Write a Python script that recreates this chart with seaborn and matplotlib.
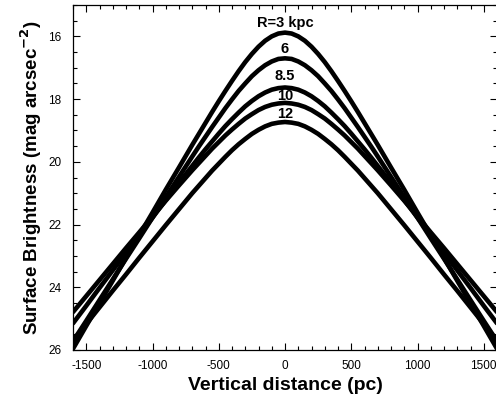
import numpy as np
import matplotlib
matplotlib.use("Agg")
import matplotlib.pyplot as plt
import seaborn as sns
import pandas as pd
from matplotlib.ticker import MultipleLocator

sns.set_style("ticks")
plt.rcParams['font.family'] = ['Liberation Sans', 'DejaVu Sans']
plt.rcParams['axes.unicode_minus'] = False
plt.rcParams['text.color'] = 'black'
plt.rcParams['axes.labelcolor'] = 'black'

# vertical distance (pc)
z_pc = [-1600, -1500, -1400, -1300, -1200, -1100, -1000, -900, -800,
        -700, -650, -600, -550, -500, -450, -400, -350, -300, -250, -200, -150, -100, -50,
        0,
        50, 100, 150, 200, 250, 300, 350, 400, 450, 500, 550, 600, 650, 700,
        800, 900, 1000, 1100, 1200, 1300, 1400, 1500, 1600]

# surface brightness (mag arcsec^-2)
sb_R3 = [25.96, 25.23, 24.51, 23.79, 23.06, 22.34, 21.62, 20.89, 20.18,
         19.46, 19.11, 18.76, 18.41, 18.07, 17.74, 17.42, 17.11, 16.82, 16.56, 16.33, 16.14, 16.00, 15.91,
         15.88,
         15.91, 16.00, 16.14, 16.33, 16.56, 16.82, 17.11, 17.42, 17.74, 18.07, 18.41, 18.76, 19.11, 19.46,
         20.18, 20.89, 21.62, 22.34, 23.06, 23.79, 24.51, 25.23, 25.96]
sb_R6 = [25.72, 25.07, 24.41, 23.75, 23.09, 22.44, 21.78, 21.13, 20.48,
         19.83, 19.51, 19.20, 18.89, 18.59, 18.29, 18.01, 17.74, 17.50, 17.27, 17.08, 16.92, 16.80, 16.72,
         16.70,
         16.72, 16.80, 16.92, 17.08, 17.27, 17.50, 17.74, 18.01, 18.29, 18.59, 18.89, 19.20, 19.51, 19.83,
         20.48, 21.13, 21.78, 22.44, 23.09, 23.75, 24.41, 25.07, 25.72]
sb_R85 = [25.15, 24.59, 24.02, 23.46, 22.90, 22.34, 21.78, 21.22, 20.67,
          20.13, 19.86, 19.60, 19.35, 19.10, 18.86, 18.64, 18.43, 18.23, 18.06, 17.91, 17.79, 17.70, 17.65,
          17.63,
          17.65, 17.70, 17.79, 17.91, 18.06, 18.23, 18.43, 18.64, 18.86, 19.10, 19.35, 19.60, 19.86, 20.13,
          20.67, 21.22, 21.78, 22.34, 22.90, 23.46, 24.02, 24.59, 25.15]
sb_R10 = [24.79, 24.28, 23.77, 23.26, 22.75, 22.25, 21.74, 21.24, 20.75,
          20.27, 20.04, 19.81, 19.58, 19.37, 19.16, 18.97, 18.79, 18.62, 18.48, 18.35, 18.25, 18.18, 18.14,
          18.12,
          18.14, 18.18, 18.25, 18.35, 18.48, 18.62, 18.79, 18.97, 19.16, 19.37, 19.58, 19.81, 20.04, 20.27,
          20.75, 21.24, 21.74, 22.25, 22.75, 23.26, 23.77, 24.28, 24.79]
sb_R12 = [25.70, 25.17, 24.64, 24.11, 23.59, 23.06, 22.54, 22.02, 21.51,
          21.00, 20.76, 20.52, 20.28, 20.06, 19.84, 19.63, 19.44, 19.27, 19.11, 18.98, 18.87, 18.79, 18.75,
          18.73,
          18.75, 18.79, 18.87, 18.98, 19.11, 19.27, 19.44, 19.63, 19.84, 20.06, 20.28, 20.52, 20.76, 21.00,
          21.51, 22.02, 22.54, 23.06, 23.59, 24.11, 24.64, 25.17, 25.70]

curve_labels = ["R=3 kpc", "6", "8.5", "10", "12"]
label_mu = [15.70, 16.53, 17.39, 18.03, 18.60]   # baseline positions of the labels

series = [sb_R3, sb_R6, sb_R85, sb_R10, sb_R12]
df = pd.concat([pd.DataFrame({"z": z_pc, "mu": s, "R": lab})
                for lab, s in zip(curve_labels, series)], ignore_index=True)

fig = plt.figure(figsize=(4.96, 4.07), dpi=100)
ax = fig.add_axes([73/496, 57/407, 424/496, 345/407])
sns.lineplot(data=df, x="z", y="mu", units="R", estimator=None, color="black",
             lw=3.3, ax=ax, legend=False, sort=False)
for line in ax.lines:
    line.set_solid_joinstyle("round")
ax.set_xlim(-1600, 1600)
ax.set_ylim(26, 15)
ax.xaxis.set_major_locator(MultipleLocator(500))
ax.xaxis.set_minor_locator(MultipleLocator(100))
ax.yaxis.set_major_locator(MultipleLocator(2))
ax.yaxis.set_minor_locator(MultipleLocator(0.5))
ax.tick_params(which="both", direction="in", top=True, right=True, width=0.8,
               labelsize=8.5, color="black", labelcolor="black")
ax.tick_params(which="major", length=5)
ax.tick_params(which="minor", length=3)
ax.tick_params(axis="y", pad=8.5)
ax.tick_params(axis="x", pad=7)
for s in ax.spines.values():
    s.set_linewidth(0.9)
    s.set_color("black")
ax.set_xlabel("Vertical distance (pc)", fontsize=14, fontweight="bold", labelpad=4)
ax.set_ylabel("Surface Brightness (mag arcsec$^{\\mathbf{-2}}$)", fontsize=13.5,
              fontweight="bold", labelpad=3)
for lab, yy in zip(curve_labels, label_mu):
    ax.text(0, yy, lab, ha="center", va="baseline", fontsize=10.5, fontweight="bold",
            color="black")
fig.savefig("out.png", dpi=100)
